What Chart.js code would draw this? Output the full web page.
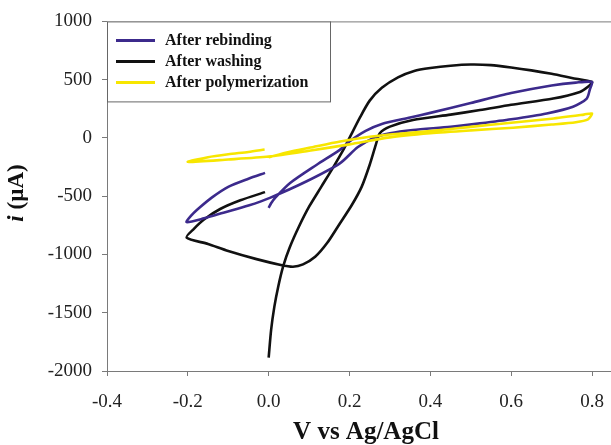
<!DOCTYPE html>
<html>
<head>
<meta charset="utf-8">
<script src="https://cdn.jsdelivr.net/npm/chart.js@4.4.1/dist/chart.umd.min.js"></script>
<style>
    html, body { margin: 0; padding: 0; background: #fff; }
    #wrap { width: 611px; height: 445px; }
</style>
</head>
<body>
<div id="wrap"><canvas id="cvChart"></canvas></div>
<script>
// tick labels
const xTicks = [-0.4, -0.2, 0.0, 0.2, 0.4, 0.6, 0.8];
const yTicks = [-2000, -1500, -1000, -500, 0, 500, 1000];

// After rebinding (V, uA)
const rebindV = [0.0, 0.006, 0.016, 0.053, 0.119, 0.176, 0.2, 0.24, 0.28, 0.35, 0.4, 0.5, 0.6, 0.7, 0.76, 0.8,
    0.795, 0.787, 0.753, 0.688, 0.6, 0.523, 0.45, 0.357, 0.3, 0.26, 0.22, 0.177, 0.094, 0.003, -0.05, -0.112, -0.16, -0.203,
    -0.19, -0.17, -0.14, -0.1, -0.05, -0.009];
const rebindI = [-600, -560, -514, -387, -230, -102, -30, 60, 120, 175, 215, 300, 385, 450, 475, 480,
    420, 338, 267, 210, 160, 125, 95, 68, 40, 0, -80, -216, -372, -514, -580, -642, -690, -722,
    -660, -595, -510, -420, -350, -300];

// After washing
const washV = [0.0, 0.006, 0.014, 0.024, 0.036, 0.052, 0.075, 0.1, 0.13, 0.16, 0.185, 0.2, 0.225, 0.25, 0.28, 0.32, 0.36, 0.4, 0.45, 0.5, 0.55, 0.6, 0.65, 0.7, 0.75, 0.8,
    0.79, 0.77, 0.704, 0.6, 0.523, 0.45, 0.357, 0.3, 0.275, 0.265, 0.25, 0.23, 0.205, 0.175, 0.145, 0.115, 0.085, 0.06, 0.03, -0.03, -0.1, -0.15, -0.203,
    -0.185, -0.16, -0.12, -0.07, -0.009];
const washI = [-1885, -1650, -1450, -1270, -1100, -940, -760, -590, -420, -250, -100, 0, 170, 320, 430, 520, 575, 600, 620, 630, 625, 605, 580, 550, 515, 480,
    440, 395, 338, 285, 239, 200, 154, 97, 40, -60, -230, -420, -580, -740, -900, -1020, -1085, -1105, -1090, -1040, -970, -910, -855,
    -780, -700, -610, -535, -465];

// After polymerization
const polyV = [0.0, 0.05, 0.1, 0.177, 0.25, 0.3, 0.4, 0.5, 0.6, 0.7, 0.78, 0.8,
    0.79, 0.76, 0.7, 0.605, 0.5, 0.4, 0.3, 0.2, 0.1, 0.0, -0.1, -0.2,
    -0.15, -0.1, -0.05, -0.01];
const polyI = [-165, -120, -85, -31, 10, 30, 60, 95, 130, 165, 200, 210,
    160, 135, 115, 88, 65, 40, 5, -55, -110, -160, -185, -205,
    -165, -140, -120, -100];

const seriesNames = ['After rebinding', 'After washing', 'After polymerization'];
const seriesColors = ['#3c2a8c', '#111111', '#f7e600'];

const serif = '"Liberation Serif", "Times New Roman", serif';
const axisGray = '#7a7a7a';

function toPoints(vs, is) {
    return vs.map((v, k) => ({ x: v, y: is[k] }));
}

// 图例 + 顶部边框 + 轴标题
const extrasPlugin = {
    id: 'extras',
    afterDraw(chart) {
        const ctx = chart.ctx;
        const area = chart.chartArea;
        ctx.save();

        // top frame line
        ctx.strokeStyle = axisGray;
        ctx.lineWidth = 1;
        ctx.beginPath();
        ctx.moveTo(area.left, area.top + 0.5);
        ctx.lineTo(chart.width, area.top + 0.5);
        ctx.stroke();

        // legend box
        const bx = area.left, by = area.top, bw = 223, bh = 80;
        ctx.fillStyle = '#fff';
        ctx.fillRect(bx, by, bw, bh);
        ctx.strokeStyle = '#666';
        ctx.strokeRect(bx + 0.5, by + 0.5, bw, bh);
        ctx.font = 'bold 16px ' + serif;
        ctx.textBaseline = 'middle';
        ctx.textAlign = 'left';
        seriesNames.forEach((name, k) => {
            const y = by + 19 + k * 21;
            ctx.strokeStyle = seriesColors[k];
            ctx.lineWidth = 3;
            ctx.beginPath();
            ctx.moveTo(bx + 9, y);
            ctx.lineTo(bx + 48, y);
            ctx.stroke();
            ctx.fillStyle = '#111';
            ctx.fillText(name, bx + 58, y);
        });

        // x title
        ctx.fillStyle = '#111';
        ctx.textAlign = 'center';
        ctx.font = 'bold 25px ' + serif;
        ctx.fillText('V vs Ag/AgCl', 366, 433);

        // y title: italic i + (µA)
        ctx.translate(17, 193);
        ctx.rotate(-Math.PI / 2);
        ctx.textAlign = 'left';
        ctx.font = 'italic bold 23px ' + serif;
        const iw = ctx.measureText('i ').width;
        ctx.font = 'bold 23px ' + serif;
        const rw = ctx.measureText('(µA)').width;
        const start = -(iw + rw) / 2;
        ctx.font = 'italic bold 23px ' + serif;
        ctx.fillText('i ', start, 0);
        ctx.font = 'bold 23px ' + serif;
        ctx.fillText('(µA)', start + iw, 0);

        ctx.restore();
    }
};

const ctx = document.getElementById('cvChart');
new Chart(ctx, {
    type: 'scatter',
    data: {
        datasets: [
            { label: seriesNames[0], data: toPoints(rebindV, rebindI), borderColor: seriesColors[0], order: 2 },
            { label: seriesNames[1], data: toPoints(washV, washI), borderColor: seriesColors[1], order: 3 },
            { label: seriesNames[2], data: toPoints(polyV, polyI), borderColor: seriesColors[2], order: 1 }
        ].map(d => Object.assign(d, {
            showLine: true,
            pointRadius: 0,
            borderWidth: 2.6,
            tension: 0.25,
            fill: false
        }))
    },
    options: {
        responsive: true,
        maintainAspectRatio: false,
        animation: false,
        layout: { padding: { top: 19, right: 0, bottom: 0, left: 0 } },
        plugins: {
            legend: { display: false },
            tooltip: { enabled: false }
        },
        scales: {
            x: {
                type: 'linear',
                min: -0.4,
                max: 0.847,
                afterBuildTicks: scale => { scale.ticks = xTicks.map(v => ({ value: v })); },
                afterFit: scale => {
                    scale.height = 74;
                    scale.paddingLeft = 0;
                    scale.paddingRight = 0;
                },
                grid: { display: true, drawOnChartArea: false, drawTicks: true, tickLength: 5, color: axisGray },
                border: { display: true, color: axisGray },
                ticks: {
                    color: '#222',
                    font: { family: serif, size: 19 },
                    padding: 15,
                    maxRotation: 0,
                    callback: v => Number(v).toFixed(1)
                }
            },
            y: {
                min: -2000,
                max: 1000,
                afterBuildTicks: scale => { scale.ticks = yTicks.map(v => ({ value: v })); },
                afterFit: scale => { scale.width = 107; },
                grid: { display: true, drawOnChartArea: false, drawTicks: true, tickLength: 5, color: axisGray },
                border: { display: true, color: axisGray },
                ticks: {
                    color: '#222',
                    font: { family: serif, size: 19 },
                    padding: 10,
                    callback: v => String(v)
                }
            }
        }
    },
    plugins: [extrasPlugin]
});
</script>
</body>
</html>
